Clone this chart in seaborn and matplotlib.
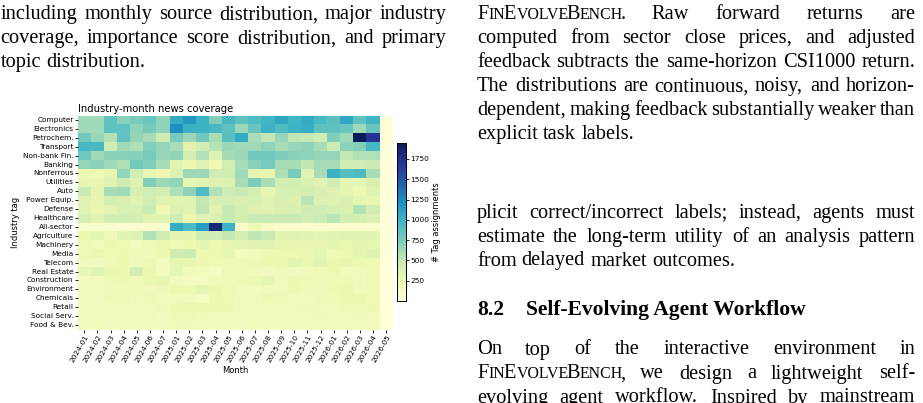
import matplotlib
matplotlib.use("Agg")
import matplotlib.pyplot as plt
import numpy as np
import pandas as pd
import seaborn as sns
from matplotlib import font_manager, ft2font
from matplotlib.font_manager import FontProperties

# ---------------- data ----------------
months = ["2024-01", "2024-02", "2024-03", "2024-04", "2024-05", "2024-06", "2024-07",
          "2025-01", "2025-02", "2025-03", "2025-04", "2025-05", "2025-06", "2025-07",
          "2025-08", "2025-09", "2025-10", "2025-11", "2025-12",
          "2026-01", "2026-02", "2026-03", "2026-04", "2026-05"]

industries = ["Computer", "Electronics", "Petrochem.", "Transport", "Non-bank Fin.", "Banking",
              "Nonferrous", "Utilities", "Auto", "Power Equip.", "Defense", "Healthcare",
              "All-sector", "Agriculture", "Machinery", "Media", "Telecom", "Real Estate",
              "Construction", "Environment", "Chemicals", "Retail", "Social Serv.", "Food & Bev."]

computer     = [620, 620, 850, 700, 760, 820, 680, 1050, 1170, 1000, 720, 960, 860, 920, 980, 1090, 980, 1060, 940, 870, 1090, 860, 980, 30]
electronics  = [620, 620, 860, 850, 680, 770, 680, 1220, 1000, 1000, 960, 860, 640, 830, 1000, 920, 1000, 1030, 860, 860, 820, 630, 830, 20]
petrochem    = [780, 650, 560, 850, 670, 600, 440, 760, 640, 780, 590, 880, 1060, 590, 510, 650, 520, 490, 430, 730, 620, 1950, 1700, 15]
transport    = [960, 950, 430, 620, 570, 730, 660, 590, 330, 420, 550, 640, 620, 620, 680, 600, 650, 680, 600, 440, 690, 720, 960, 10]
nonbank_fin  = [790, 620, 690, 700, 710, 760, 650, 670, 400, 560, 360, 610, 640, 780, 790, 740, 690, 680, 660, 660, 490, 560, 570, 10]
banking      = [670, 700, 620, 580, 790, 730, 590, 310, 240, 340, 230, 420, 590, 700, 760, 600, 600, 510, 600, 590, 430, 430, 460, 10]
nonferrous   = [260, 220, 290, 670, 420, 300, 230, 360, 640, 640, 440, 440, 620, 300, 280, 580, 760, 330, 600, 1000, 900, 930, 590, 10]
utilities    = [290, 280, 330, 440, 330, 730, 640, 670, 300, 320, 340, 360, 600, 740, 600, 430, 420, 370, 330, 430, 300, 300, 370, 10]
auto         = [460, 300, 600, 620, 390, 430, 420, 580, 690, 920, 560, 450, 480, 400, 280, 390, 390, 400, 370, 360, 300, 250, 330, 10]
power_equip  = [340, 280, 400, 370, 330, 420, 330, 320, 330, 500, 390, 410, 370, 380, 340, 390, 360, 540, 360, 340, 370, 300, 270, 10]
defense      = [330, 270, 310, 380, 380, 460, 230, 360, 330, 520, 330, 470, 400, 340, 330, 370, 370, 450, 450, 400, 380, 560, 420, 10]
healthcare   = [390, 310, 430, 420, 410, 330, 320, 440, 250, 330, 370, 460, 400, 460, 460, 470, 470, 420, 460, 530, 420, 400, 350, 10]
all_sector   = [80, 80, 80, 70, 70, 80, 90, 1050, 940, 1150, 1830, 1000, 90, 220, 120, 80, 80, 80, 80, 80, 80, 90, 90, 5]
agriculture  = [250, 300, 210, 320, 350, 560, 440, 300, 300, 430, 430, 500, 420, 520, 460, 320, 340, 320, 300, 320, 330, 320, 310, 10]
machinery    = [220, 190, 260, 230, 170, 230, 260, 220, 250, 300, 260, 280, 300, 310, 330, 280, 280, 290, 280, 300, 270, 300, 290, 8]
media        = [220, 260, 230, 250, 230, 200, 250, 440, 460, 250, 250, 290, 180, 190, 220, 250, 250, 260, 300, 220, 250, 300, 340, 8]
telecom      = [200, 170, 210, 240, 190, 240, 180, 290, 290, 240, 230, 230, 220, 230, 250, 260, 320, 270, 320, 260, 280, 260, 250, 8]
real_estate  = [280, 330, 260, 260, 420, 270, 180, 300, 200, 180, 110, 220, 220, 200, 170, 210, 170, 200, 220, 250, 200, 200, 220, 6]
construction = [180, 200, 220, 240, 210, 270, 290, 180, 160, 160, 200, 210, 220, 260, 300, 200, 240, 220, 210, 220, 230, 200, 220, 5]
environment  = [180, 190, 210, 210, 220, 200, 210, 250, 250, 300, 260, 220, 190, 180, 200, 200, 240, 210, 190, 250, 260, 200, 220, 5]
chemicals    = [180, 190, 220, 220, 200, 220, 180, 200, 200, 150, 240, 230, 180, 200, 240, 220, 190, 200, 220, 210, 240, 260, 230, 5]
retail       = [180, 190, 180, 200, 190, 200, 210, 250, 260, 260, 250, 240, 200, 190, 200, 190, 200, 210, 190, 200, 220, 230, 240, 4]
social_serv  = [190, 180, 200, 190, 200, 190, 180, 220, 220, 210, 200, 190, 180, 190, 200, 190, 180, 200, 210, 190, 200, 210, 200, 4]
food_bev     = [170, 180, 170, 180, 170, 180, 170, 190, 190, 200, 180, 180, 170, 180, 170, 180, 170, 180, 190, 180, 190, 200, 190, 3]

rows = [computer, electronics, petrochem, transport, nonbank_fin, banking, nonferrous,
        utilities, auto, power_equip, defense, healthcare, all_sector, agriculture,
        machinery, media, telecom, real_estate, construction, environment, chemicals,
        retail, social_serv, food_bev]
df = pd.DataFrame(rows, index=industries, columns=months)

# ---------------- figure ----------------
W, H = 923, 403
DPI = 100
fig = plt.figure(figsize=(W / DPI, H / DPI), dpi=DPI)
fig.patch.set_facecolor("white")


def box(x0, y0, x1, y1):
    return [x0 / W, 1 - y1 / H, (x1 - x0) / W, (y1 - y0) / H]


ax = fig.add_axes(box(77.7, 115.5, 392.7, 329.5))
cax = fig.add_axes(box(396.7, 142.7, 406.0, 300.7))

sns.heatmap(df, ax=ax, cbar_ax=cax, cmap="YlGnBu", xticklabels=True, yticklabels=True,
            cbar_kws={"label": "# Tag assignments"})
ax.set_title("Industry-month news coverage", loc="left", fontsize=7.2, pad=2.5)
ax.set_xlabel("Month", fontsize=6.0, labelpad=1.5)
ax.set_ylabel("Industry tag", fontsize=6.0, labelpad=2)
ax.tick_params(axis="both", labelsize=5.3, length=2, width=0.6, pad=1)
plt.setp(ax.get_xticklabels(), rotation=60, ha="right", rotation_mode="anchor")
cax.tick_params(labelsize=5.3, length=2, width=0.6, pad=1)
cax.yaxis.label.set_size(6.0)
cax.yaxis.labelpad = 2
for sp in cax.spines.values():
    sp.set_visible(True)
    sp.set_linewidth(0.6)

# ---------------- surrounding paper text ----------------
SERIF = "Liberation Serif"
_fonts = {}


def _font(weight):
    if weight not in _fonts:
        path = font_manager.findfont(FontProperties(family=SERIF, weight=weight))
        _fonts[weight] = ft2font.FT2Font(path)
    return _fonts[weight]


def adv(text, size, weight="normal"):
    f = _font(weight)
    f.set_size(size, DPI)
    total = 0.0
    for ch in text:
        g = f.load_char(ord(ch))
        total += g.linearHoriAdvance / 65536.0
    return total


ref_lines = [("estimate the long-term utility of an analysis pattern", 434.0),
             ("explicit task labels.", 146.0),
             ("topic distribution.", 149.0)]
BODY = float(np.mean([w / adv(t, 10.0) * 10.0 for t, w in ref_lines]))
SC = 0.78 * BODY
SC_TIGHT = 0.93

key = "FinEvolveBench"


def segments(word, weight="normal"):
    if word.startswith(key):
        segs = []
        for ch in key:
            if ch.isupper():
                segs.append([ch, BODY])
            else:
                if segs and segs[-1][1] == SC:
                    segs[-1][0] += ch.upper()
                else:
                    segs.append([ch.upper(), SC])
        rest = word[len(key):]
        if rest:
            segs.append([rest, BODY])
        return [(s, z, weight) for s, z in segs]
    return [(word, BODY, weight)]


def seg_width(s, z, wt):
    w = adv(s, z, wt)
    return w * SC_TIGHT if z == SC else w


def draw_line(text, x0, x1, baseline, justify=True, weight="normal"):
    words = text.split(" ")
    segs = [segments(w, weight) for w in words]
    widths = [sum(seg_width(s, z, wt) for s, z, wt in sg) for sg in segs]
    space = adv(" ", BODY, weight)
    if justify and len(words) > 1:
        gap = (x1 - x0 - sum(widths)) / (len(words) - 1)
    else:
        gap = space
    x = x0
    for sg, wd in zip(segs, widths):
        xx = x
        for s, z, wt in sg:
            fig.text(xx / W, 1 - baseline / H, s, fontsize=z, family=SERIF, weight=wt,
                     va="baseline", ha="left", color="black")
            xx += seg_width(s, z, wt)
        x += wd + gap


# left column
LX0, LX1 = 0.5, 446
draw_line("including monthly source distribution, major industry", LX0, LX1, 19.3)
draw_line("coverage, importance score distribution, and primary", LX0, LX1, 43.3)
draw_line("topic distribution.", LX0, LX1, 67.3, justify=False)

# right column
RX0, RX1 = 477, 915
draw_line("FinEvolveBench. Raw forward returns are", RX0, RX1, 19.3)
draw_line("computed from sector close prices, and adjusted", RX0, RX1, 43.3)
draw_line("feedback subtracts the same-horizon CSI1000 return.", RX0, RX1, 67.3)
draw_line("The distributions are continuous, noisy, and horizon-", RX0, RX1, 91.3)
draw_line("dependent, making feedback substantially weaker than", RX0, RX1, 115.3)
draw_line("explicit task labels.", RX0, RX1, 139.3, justify=False)

draw_line("plicit correct/incorrect labels; instead, agents must", RX0, RX1, 217.5)
draw_line("estimate the long-term utility of an analysis pattern", RX0, RX1, 241.5)
draw_line("from delayed market outcomes.", RX0, RX1, 265.5, justify=False)

HEAD = 282.0 / adv("Self-Evolving Agent Workflow", 10.0, "bold") * 10.0
fig.text(RX0 / W, 1 - 315.0 / H, "8.2", fontsize=HEAD, family=SERIF, weight="bold",
         va="baseline", ha="left")
fig.text(526 / W, 1 - 315.0 / H, "Self-Evolving Agent Workflow", fontsize=HEAD, family=SERIF,
         weight="bold", va="baseline", ha="left")

draw_line("On top of the interactive environment in", RX0, RX1, 354.5)
draw_line("FinEvolveBench, we design a lightweight self-", RX0, RX1, 378.5)
draw_line("evolving agent workflow. Inspired by mainstream", RX0, RX1, 402.5)

fig.savefig("out.png", dpi=DPI)
